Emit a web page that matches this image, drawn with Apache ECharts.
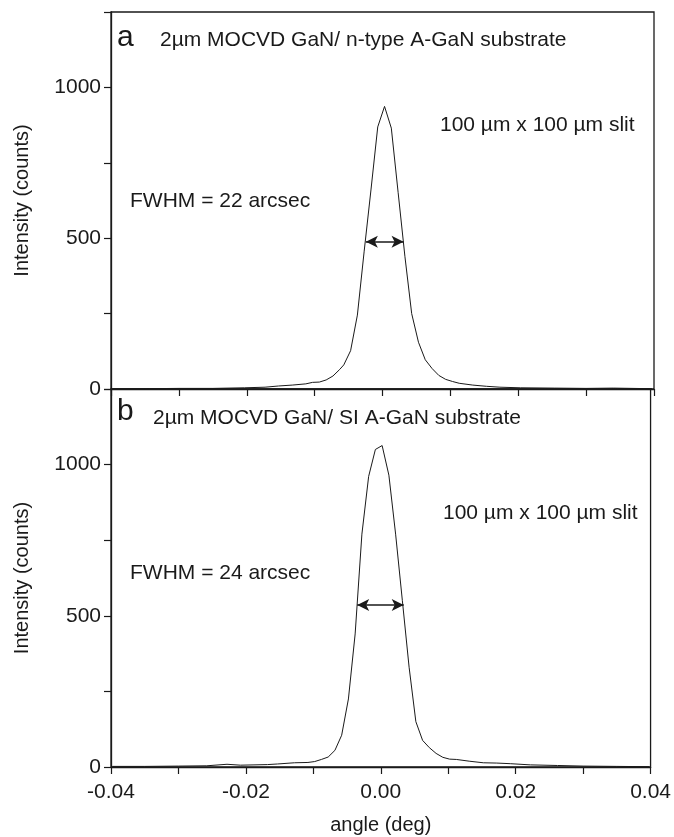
<!DOCTYPE html>
<html>
<head>
<meta charset="utf-8">
<script src="https://cdn.jsdelivr.net/npm/echarts@6/dist/echarts.min.js"></script>
<style>
html,body{margin:0;padding:0;background:#fff;}
#chart{width:674px;height:837px;}
</style>
</head>
<body>
<div id="chart"></div>
<script>
// Panel a: 2µm MOCVD GaN / n-type A-GaN substrate
const anglesA = [-0.0397,-0.035,-0.030,-0.025,-0.0203,-0.0173,-0.0153,-0.0133,-0.0113,-0.0103,-0.0093,-0.0083,-0.0073,-0.0063,-0.0057,-0.0047,-0.0037,-0.0027,-0.0017,-0.0007,0.0003,0.0013,0.0023,0.0033,0.0043,0.0053,0.0063,0.0073,0.0083,0.0093,0.0103,0.0113,0.0133,0.0153,0.0173,0.0203,0.0253,0.030,0.034,0.0397];
const countsA = [1,1,2,2,4,6,10,13,17,22,23,30,43,65,80,127,245,457,660,869,937,865,652,440,250,155,97,68,45,32,25,19,13,9,6,4,3,2,3,1];
// Panel b: 2µm MOCVD GaN / SI A-GaN substrate
const anglesB = [-0.0398,-0.035,-0.030,-0.0258,-0.0228,-0.0208,-0.0188,-0.0168,-0.0153,-0.0128,-0.0108,-0.0098,-0.0088,-0.0078,-0.0068,-0.0058,-0.0048,-0.0038,-0.0028,-0.0018,-0.0008,0.0002,0.0012,0.0022,0.0032,0.0042,0.0052,0.0062,0.0072,0.0082,0.0092,0.0102,0.0112,0.0132,0.0152,0.0172,0.0192,0.0222,0.0262,0.030,0.035,0.0398];
const countsB = [2,2,3,4,9,6,7,8,10,14,15,18,25,33,55,105,225,440,770,961,1050,1063,965,770,550,330,150,88,64,45,32,26,25,19,14,13,11,7,5,3,2,1];
// FWHM arrows: [left angle, right angle, intensity]
const fwhmA = [-0.00245, 0.0031, 488];
const fwhmB = [-0.0035, 0.0034, 536];
// Axis ticks
const xMin = -0.04, xMax = 0.04, xStep = 0.01;
const yMin = 0, yMax = 1250, yStep = 250;
// Texts
const panelLetters = ['a', 'b'];
const panelTitles = ['2\u00b5m MOCVD GaN/ n-type A-GaN substrate', '2\u00b5m MOCVD GaN/ SI A-GaN substrate'];
const slitText = '100 \u00b5m x 100 \u00b5m slit';
const fwhmTexts = ['FWHM = 22 arcsec', 'FWHM = 24 arcsec'];
const yName = 'Intensity (counts)';
const xName = 'angle (deg)';

const FONT = 'Liberation Sans, Arial, sans-serif';
const ink = '#1a1a1a';

function zip(a, b) { return a.map((v, i) => [v, b[i]]); }

function yAxis(gi) {
  return {
    type: 'value', gridIndex: gi, min: yMin, max: yMax, interval: yStep,
    name: yName, nameLocation: 'middle', nameRotate: 90, nameGap: 79,
    nameTextStyle: { fontFamily: FONT, fontSize: 20, color: ink },
    axisLine: { show: true, onZero: false, lineStyle: { color: ink, width: 1.3 } },
    axisTick: { show: true, inside: false, length: 7, lineStyle: { color: ink, width: 1.2 } },
    axisLabel: { margin: 10, fontFamily: FONT, fontSize: 21, color: ink,
      formatter: v => (Math.round(v) % 500 === 0 ? String(Math.round(v)) : '') },
    splitLine: { show: false }
  };
}
function xAxis(gi, labels) {
  return {
    type: 'value', gridIndex: gi, min: xMin, max: xMax, interval: xStep,
    name: labels ? xName : '', nameLocation: 'middle', nameGap: 48,
    nameTextStyle: { fontFamily: FONT, fontSize: 20, color: ink },
    axisLine: { show: true, onZero: false, lineStyle: { color: ink, width: 1.3 } },
    axisTick: { show: true, inside: false, length: 7, lineStyle: { color: ink, width: 1.2 } },
    axisLabel: { show: labels, margin: 15, fontFamily: FONT, fontSize: 21, color: ink,
      showMinLabel: true, showMaxLabel: true,
      formatter: v => (Math.round(v * 100) % 2 === 0 ? (Math.abs(v) < 1e-9 ? 0 : v).toFixed(2) : '') },
    splitLine: { show: false }
  };
}
function series(gi, ang, cnt, fw) {
  return {
    type: 'line', xAxisIndex: gi, yAxisIndex: gi, data: zip(ang, cnt),
    showSymbol: false, symbol: 'none', smooth: false,
    lineStyle: { color: ink, width: 1 },
    markLine: {
      silent: true, symbol: ['arrow', 'arrow'], symbolSize: [9, 12],
      label: { show: false },
      lineStyle: { color: ink, width: 1.6, type: 'solid' },
      data: [[{ coord: [fw[0], fw[2]] }, { coord: [fw[1], fw[2]] }]]
    }
  };
}

const chart = echarts.init(document.getElementById('chart'), null, { renderer: 'canvas' });
const txt = (x, y, s, size, extra) => Object.assign({ type: 'text', left: x, top: y,
  style: { text: s, fontFamily: FONT, fontSize: size, fill: ink } }, extra || {});
chart.setOption({
  animation: false,
  backgroundColor: '#fff',
  grid: [
    { left: 111, right: 20, top: 12, height: 377, show: true, borderColor: ink, borderWidth: 1.3, backgroundColor: 'transparent' },
    { left: 111, right: 20, top: 389, height: 378, show: true, borderColor: ink, borderWidth: 1.3, backgroundColor: 'transparent' }
  ],
  xAxis: [xAxis(0, false), xAxis(1, true)],
  yAxis: [yAxis(0), yAxis(1)],
  series: [series(0, anglesA, countsA, fwhmA), series(1, anglesB, countsB, fwhmB)],
  graphic: [
    txt(117, 23, panelLetters[0], 30),
    txt(160, 30, panelTitles[0], 21),
    txt(440, 115, slitText, 21),
    txt(130, 191, fwhmTexts[0], 21),
    txt(117, 397, panelLetters[1], 30),
    txt(153, 408, panelTitles[1], 21),
    txt(443, 503, slitText, 21),
    txt(130, 563, fwhmTexts[1], 21)
  ]
});
</script>
</body>
</html>
